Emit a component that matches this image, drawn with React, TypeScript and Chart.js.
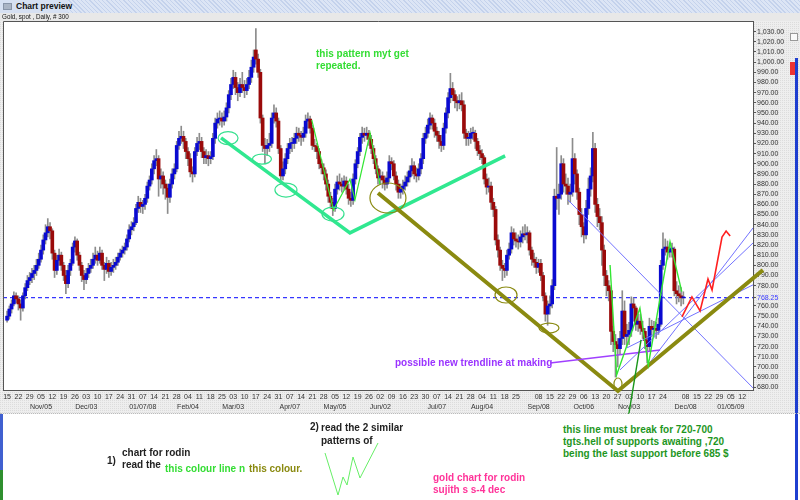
import React, { useEffect, useRef } from 'react';
import { Chart, registerables } from 'chart.js';
Chart.register(...registerables);

// ---------- DATA (daily bars, index 0 = Mon 15 Oct 2007) ----------
const opens = [
746,750,757,762,770, 767,762,758,770,778, 785,788,792,795,800, 806,815,825,832,838,
834,812,795,805,810, 800,790,782,795,802, 818,824,810,800,790, 786,792,797,800,806,
810,805,812,800,796, 802,794,798,800,803, 808,812,815,818,826, 835,838,842,856,862,
858,860,866,878,884, 895,903,905,885,888, 880,876,867,880,890, 895,918,925,927,922,
912,905,892,890,912, 920,922,912,906,908, 905,907,925,940,944, 945,942,946,955,968,
978,985,975,970,978, 975,972,978,985,995, 1012,1003,990,945,918, 915,918,920,945,950,
942,915,888,895,905, 915,920,920,925,930, 928,926,930,942,944, 935,918,917,912,900,
896,890,880,868,862, 856,875,882,880,878, 883,875,866,864,885, 900,912,926,930,928,
930,924,915,905,895, 886,888,884,880,886, 902,900,888,880,872, 875,878,882,887,893,
898,890,888,895,905, 925,930,938,945,940, 932,928,922,918,935, 950,965,974,968,962,
960,962,958,930,925, 925,930,930,922,913, 910,906,885,877,878, 862,855,825,815,800,
797,795,810,816,832, 826,824,823,828,831, 830,832,815,806,803, 798,802,790,770,752,
760,762,780,868,866, 870,900,880,878,870, 872,905,890,872,850, 838,830,856,875,888,
915,860,848,842,815, 790,780,775,735,725, 722,718,728,755,730, 732,736,762,758,742,
745,738,735,726,720, 740,737,738,736,742, 800,816,818,813,816, 816,775,772,770,768
];
const highs = [
755,760,766,774,773, 770,766,773,782,790, 793,797,800,806,812, 820,830,840,846,842,
836,815,810,816,813, 803,795,800,806,822, 828,826,813,803,795, 797,802,806,812,818,
814,818,815,803,808, 805,803,806,808,812, 816,819,822,830,840, 843,847,860,868,866,
864,870,882,888,900, 908,914,908,895,892, 884,880,885,895,900, 922,932,937,932,925,
916,910,897,916,926, 930,926,916,914,912, 912,930,945,950,952, 950,952,960,972,984,
992,990,980,984,990, 982,984,992,1002,1012, 1033,1008,993,948,925, 924,930,950,958,955,
945,918,902,910,920, 925,926,930,936,935, 932,936,948,950,947, 938,924,920,915,904,
900,894,884,872,866, 880,888,890,886,888, 887,880,872,890,904, 916,930,936,935,936,
933,928,918,908,898, 894,892,888,892,908, 906,903,892,884,880, 884,888,892,898,905,
902,896,900,910,930, 936,944,950,948,944, 936,932,928,940,955, 970,989,980,972,966,
968,970,962,934,932, 935,936,933,925,918, 914,908,890,886,882, 866,858,830,818,805,
802,815,822,838,836, 832,830,834,838,840, 838,834,818,812,808, 806,806,793,773,765,
770,786,875,916,880, 908,905,890,886,880, 925,910,894,876,856, 842,864,886,896,931,
920,866,856,848,820, 795,785,778,740,732, 728,735,775,765,742, 744,769,768,760,752,
752,745,738,730,748, 746,745,744,748,805, 832,826,824,822,822, 818,784,780,778,774
];
const lows = [
744,747,753,760,763, 756,746,755,767,775, 781,783,786,790,797, 803,811,821,828,826,
806,788,791,800,795, 785,772,778,790,800, 813,805,795,784,776, 782,788,793,797,802,
800,802,796,785,792, 788,790,793,796,800, 805,808,811,815,823, 830,834,840,852,852,
851,855,862,874,880, 890,898,868,876,870, 865,851,862,876,885, 892,914,920,915,905,
898,887,882,887,908, 914,906,900,900,898, 900,904,920,935,938, 936,938,942,950,963,
974,968,962,966,970, 965,968,974,980,990, 998,985,940,912,900, 908,912,916,940,936,
910,880,884,890,900, 910,912,915,920,922, 918,922,926,935,930, 914,912,905,895,890,
884,874,862,856,849, 853,870,874,872,874, 870,860,858,860,880, 896,908,920,922,924,
918,910,900,890,880, 880,876,874,876,882, 894,884,874,866,866, 870,874,878,882,888,
885,882,884,890,900, 920,926,934,934,926, 922,915,912,914,930, 945,960,962,955,952,
954,952,925,918,918, 920,924,915,908,904, 900,880,870,872,855, 848,820,808,795,785,
788,790,806,812,820, 818,816,818,822,825, 822,810,800,798,792, 793,785,765,745,741,
752,758,776,855,850, 865,872,870,860,862, 868,880,865,840,828, 822,826,850,868,882,
852,838,835,800,780, 770,765,722,715,690, 700,712,722,722,720, 722,730,745,736,735,
732,728,718,704,716, 730,730,728,732,740, 796,810,806,808,808, 770,762,764,760,762
];
const closes = [
750,757,762,770,767, 762,758,770,778,785, 788,792,795,800,806, 815,825,832,838,834,
812,795,805,810,800, 790,782,795,802,818, 824,810,800,790,786, 792,797,800,806,810,
805,812,800,796,802, 794,798,800,803,808, 812,815,818,826,835, 838,842,856,862,858,
860,866,878,884,895, 903,905,885,888,880, 876,867,880,890,895, 918,925,927,922,912,
905,892,890,912,920, 922,912,906,908,905, 907,925,940,944,945, 942,946,955,968,978,
985,975,970,978,975, 972,978,985,995,1005, 1003,990,945,918,915, 918,920,945,950,942,
915,888,895,905,915, 920,920,925,930,928, 926,930,942,944,935, 918,917,912,900,896,
890,880,868,862,856, 875,882,880,878,883, 875,866,864,885,900, 912,926,930,928,930,
924,915,905,895,886, 888,884,880,886,902, 900,888,880,872,875, 878,882,887,893,898,
890,888,895,905,925, 930,938,945,940,932, 928,922,918,935,950, 965,974,968,962,960,
962,958,930,925,925, 930,930,922,913,910, 906,885,877,878,862, 855,825,815,800,797,
795,810,816,832,826, 824,823,828,831,830, 832,815,806,803,798, 802,790,770,752,760,
762,780,868,866,870, 900,880,878,870,872, 905,890,872,850,838, 830,856,875,888,915,
860,848,842,815,790, 780,775,735,725,722, 718,728,755,730,732, 736,762,758,742,745,
738,735,726,720,740, 737,738,736,742,800, 816,818,813,816,816, 775,772,770,768,768
];
const lastPrice = 768.25;

// Monday tick labels, one per week ('' = label not shown)
const weekDayLabels = ['15','22','29','05','12','19','26','03','10','17','24','31','07','14','21','28','04','11','18','25','03','10','17','24','31','07','14','21','28','05','12','19','26','02','09','16','23','30','07','14','21','28','04','11','18','25','','08','15','22','29','06','13','20','27','03','10','17','24','','08','15','22','29','05','12'];
const monthLabelWeeks = [3,7,12,16,20,25,29,33,38,42,47,51,55,60,64];
const monthLabelTexts = ['Nov/05','Dec/03','01/07/08','Feb/04','Mar/03','Apr/07','May/05','Jun/02','Jul/07','Aug/04','Sep/08','Oct/06','Nov/03','Dec/08','01/05/09'];
const yTickValues = [1030,1020,1010,1000,990,980,970,960,950,940,930,920,910,900,890,880,870,860,850,840,830,820,810,800,790,780,768.25,760,750,740,730,720,710,700,690,680];

// Hand-drawn annotations, in (bar index, price)
const cyanTrend = [[94.6,925.4],[151.6,831.9],[220.2,907.7]];
const oliveTrend = [[164.0,871.2],[270.1,676.3],[334.2,795.4]];
const greenZigA = [[134.7,943.1],[144.3,854.5],[151.6,884.7],[153.8,864.3],[160.5,930],[164.9,879.1]];
const greenZigB = [[266.6,800.3],[269.5,692.0],[279.8,757.8],[283.5,701.9],[293.1,823.3],[298.3,774.1]];
const darkGreenPointer = [[274.1,642.9],[280.3,726.6]];
const purpleLine = [[240.1,703.9],[288.7,716.7]];
const blueLineA = [[248.0,864.4],[329.8,679.3]];
const blueLineB = [[283.4,702.0],[329.8,836.8]];
const blueLineC = [[271.0,697.1],[329.8,822.0]];
const blueLineD = [[274.1,718.8],[329.8,780.8]];
const redForecast = [[298.4,749.2],[302.8,768.9],[306.4,755.1],[309.9,786.6],[311.7,775.8],[316.1,827.9],[317.9,833.8],[319.7,828.9]];
const cyanCircles = [[97.7,925.3],[112.7,904.6],[123.3,874.1],[144.1,850.5]];
const oliveCircles = [[168.4,866.3],[220.6,770.8],[239.6,738.3],[270.1,683.2]];

// ---------- STYLE ----------
const X_MIN = -1.8, X_MAX = 329.8, Y_MIN = 677.3, Y_MAX = 1040.5;
const FONT = "'Liberation Sans', Arial, sans-serif";
const cyanRadii = [[10,6.5],[9.5,5],[11,7],[11,7]];
const oliveRadii = [[18,15],[11,8],[10,5],[4,6]];

const pts = (arr: number[][]) => arr.map(([x, y]) => ({ x, y }));

const lineDs = (data: number[][], color: string, width: number, order: number, extra: any = {}) => ({
  type: 'line' as const,
  data: pts(data),
  borderColor: color,
  borderWidth: width,
  pointRadius: 0,
  tension: 0,
  fill: false,
  order,
  clip: false,
  ...extra,
});

const fmt = new Intl.NumberFormat('en-US', { minimumFractionDigits: 2, maximumFractionDigits: 2 });

const dayTickMap = new Map<number, string>();
weekDayLabels.forEach((l, w) => { if (l) dayTickMap.set(w * 5, l); });
const monthTickMap = new Map<number, string>();
monthLabelWeeks.forEach((w, k) => monthTickMap.set(w * 5, monthLabelTexts[k]));

function makePattern(ctx: CanvasRenderingContext2D) {
  const c = document.createElement('canvas');
  c.width = 2; c.height = 2;
  const g = c.getContext('2d')!;
  g.fillStyle = '#eeeeee'; g.fillRect(0, 0, 2, 2);
  g.fillStyle = '#dcdcdc'; g.fillRect(0, 0, 1, 1);
  return ctx.createPattern(c, 'repeat');
}

const decoPlugin = {
  id: 'deco',
  beforeDraw(chart: any) {
    const { ctx, chartArea: a } = chart;
    ctx.save();
    ctx.fillStyle = makePattern(ctx) || '#ececec';
    ctx.fillRect(0, 21, chart.width, chart.height - 21);
    ctx.fillStyle = '#ffffff';
    ctx.fillRect(a.left, a.top, a.right - a.left, a.bottom - a.top);
    ctx.restore();
  },
  afterDatasetsDraw(chart: any) {
    const { ctx } = chart;
    const xs = chart.scales.x, ys = chart.scales.y;
    const drawSet = (centers: number[][], radii: number[][], color: string, w: number) => {
      centers.forEach(([cx, cy], i) => {
        ctx.beginPath();
        ctx.ellipse(xs.getPixelForValue(cx), ys.getPixelForValue(cy), radii[i][0], radii[i][1], 0, 0, Math.PI * 2);
        ctx.strokeStyle = color; ctx.lineWidth = w; ctx.stroke();
      });
    };
    ctx.save();
    drawSet(cyanCircles, cyanRadii, '#35e08e', 1.2);
    drawSet(oliveCircles, oliveRadii, '#8a8a10', 1.2);
    ctx.restore();
  },
  afterDraw(chart: any) {
    const { ctx, chartArea: a } = chart;
    ctx.save();
    ctx.strokeStyle = '#555';
    ctx.lineWidth = 1;
    ctx.beginPath();
    ctx.moveTo(a.left + 0.5, a.bottom);
    ctx.lineTo(a.left + 0.5, a.top + 0.5);
    ctx.lineTo(a.right, a.top + 0.5);
    ctx.stroke();
    ctx.restore();
  },
};

function ChartCanvas() {
  const ref = useRef<HTMLCanvasElement>(null);
  useEffect(() => {
    if (!ref.current) return;
    const bodies = closes.map((c, i) => ({ x: i, y: [opens[i], c] }));
    const wicks = closes.map((_, i) => ({ x: i, y: [lows[i], highs[i]] }));
    const chart = new Chart(ref.current, {
      type: 'bar',
      data: {
        datasets: [
          lineDs(redForecast, '#ff2020', 1.6, 0),
          lineDs(greenZigB, '#33e633', 1.4, 1),
          lineDs(darkGreenPointer, '#1a961a', 1.4, 1),
          lineDs(purpleLine, '#a040ff', 1.6, 1),
          lineDs(oliveTrend, '#8a8a10', 4, 2),
          lineDs(cyanTrend, '#30e890', 3.5, 2),
          lineDs(greenZigA, '#33e633', 1.2, 3),
          lineDs(blueLineA, '#7373ff', 1, 4),
          lineDs(blueLineB, '#7373ff', 1, 4),
          lineDs(blueLineC, '#7373ff', 1, 4),
          lineDs(blueLineD, '#7373ff', 1, 4),
          {
            type: 'bar' as const,
            data: bodies as any,
            grouped: false,
            barThickness: 3,
            minBarLength: 1,
            order: 10,
            backgroundColor: (ctx: any) => {
              const i = ctx.dataIndex;
              return closes[i] >= opens[i] ? '#0a0ad0' : '#9a0a0a';
            },
            borderWidth: 0,
          },
          {
            type: 'bar' as const,
            data: wicks as any,
            grouped: false,
            barThickness: 1,
            order: 11,
            backgroundColor: '#8c8c8c',
            borderWidth: 0,
          },
          lineDs([[X_MIN, lastPrice], [X_MAX, lastPrice]], '#3636ff', 1.3, 12, { borderDash: [4, 3], clip: true }),
        ] as any,
      },
      options: {
        animation: false,
        responsive: false,
        devicePixelRatio: 1,
        events: [],
        layout: { padding: { left: 3, top: 21, right: 0, bottom: 0 } },
        plugins: { legend: { display: false }, tooltip: { enabled: false }, title: { display: false } },
        scales: {
          x: {
            type: 'linear', position: 'bottom', min: X_MIN, max: X_MAX, offset: false, weight: 0,
            grid: { display: false, drawTicks: false, offset: false },
            border: { display: true, color: '#555' },
            afterBuildTicks: (s: any) => { s.ticks = Array.from(dayTickMap.keys()).map((v) => ({ value: v })); },
            afterFit: (s: any) => { s.height = 12; },
            ticks: {
              autoSkip: false, maxRotation: 0, minRotation: 0, padding: 3,
              font: { size: 7, family: FONT }, color: '#333',
              callback: (v: any) => dayTickMap.get(Number(v)) ?? '',
            },
          },
          x2: {
            type: 'linear', position: 'bottom', min: X_MIN, max: X_MAX, offset: false, weight: 1,
            grid: { display: false, drawTicks: false },
            border: { display: false },
            afterBuildTicks: (s: any) => { s.ticks = Array.from(monthTickMap.keys()).map((v) => ({ value: v })); },
            afterFit: (s: any) => { s.height = 12; },
            ticks: {
              autoSkip: false, maxRotation: 0, minRotation: 0, padding: 1,
              font: { size: 7, family: FONT }, color: '#333',
              callback: (v: any) => monthTickMap.get(Number(v)) ?? '',
            },
          },
          y: {
            type: 'linear', position: 'right', min: Y_MIN, max: Y_MAX,
            grid: { display: true, drawOnChartArea: false, drawTicks: true, tickLength: 3, color: '#555' },
            border: { display: true, color: '#555' },
            afterBuildTicks: (s: any) => { s.ticks = yTickValues.map((v) => ({ value: v })); },
            afterFit: (s: any) => { s.width = 47; },
            ticks: {
              autoSkip: false, padding: 1,
              font: { size: 7, family: FONT },
              color: (c: any) => (c.tick && c.tick.value === lastPrice ? '#3b3bff' : '#333'),
              callback: (v: any) => fmt.format(Number(v)),
            },
          },
        },
      } as any,
      plugins: [decoPlugin],
    });
    return () => chart.destroy();
  }, []);
  return <canvas ref={ref} width={800} height={414} style={{ position: 'absolute', left: 0, top: 0, width: 800, height: 414 }} />;
}

const txt = (left: number, top: number, color: string, lines: string[], lh = 12): React.ReactNode => (
  <div style={{ position: 'absolute', left, top, color, font: `bold 10px ${FONT}`, lineHeight: `${lh}px`, whiteSpace: 'pre' }}>
    {lines.map((l, i) => <div key={i}>{l}</div>)}
  </div>
);

export default function App() {
  return (
    <div style={{ position: 'fixed', left: 0, top: 0, width: 800, height: 500, background: '#fff', overflow: 'hidden' }}>
      <div style={{ position: 'absolute', left: 0, top: 0, width: 800, height: 13, background: 'repeating-linear-gradient(45deg,#c4d2ec 0px,#c4d2ec 1px,#dce5f5 1px,#dce5f5 3px)' }} />
      <div style={{ position: 'absolute', left: 0, top: 0, width: 68, height: 13, background: '#d6e0f2' }} />
      <div style={{ position: 'absolute', left: 3, top: 3, width: 9, height: 7, background: '#aab4c4', border: '1px solid #8894a8', boxSizing: 'border-box' }} />
      <div style={{ position: 'absolute', left: 16, top: 1, font: `bold 8.5px ${FONT}`, color: '#111', lineHeight: '11px' }}>Chart preview</div>
      <div style={{ position: 'absolute', left: 0, top: 13, width: 800, height: 8, background: '#e8e8e8' }} />
      <ChartCanvas />
      <div style={{ position: 'absolute', left: 2, top: 13, font: `6.3px ${FONT}`, color: '#111', lineHeight: '8px' }}>Gold, spot , Daily, # 300</div>
      {/* right side strip */}
      <div style={{ position: 'absolute', left: 790, top: 33, width: 8, height: 8, background: '#fafafa', border: '1px solid #999', boxSizing: 'border-box' }} />
      <div style={{ position: 'absolute', left: 795, top: 58, width: 3, height: 442, background: '#1f3fd0' }} />
      <div style={{ position: 'absolute', left: 790, top: 62, width: 5, height: 13, background: '#ee3333' }} />
      <div style={{ position: 'absolute', left: 0, top: 413, width: 800, height: 1, borderTop: '1px dotted #bbb' }} />
      <div style={{ position: 'absolute', left: 0, top: 414, width: 3, height: 56, background: '#4060d0' }} />
      <div style={{ position: 'absolute', left: 0, top: 470, width: 3, height: 30, background: '#2f8f2f' }} />

      {txt(316, 48, '#33dd33', ['this pattern myt get', 'repeated.'], 11.7)}
      {txt(395, 357, '#9a33ff', ['possible new trendline at making'])}
      {txt(107, 455, '#222', ['1)'])}
      {txt(122, 447, '#222', ['chart for rodin', 'read the'], 12.3)}
      {txt(165, 463, '#33dd33', ['this colour line n'])}
      {txt(249, 463, '#8a8a10', ['this colour.'])}
      {txt(310, 421, '#222', ['2)'])}
      {txt(321, 421, '#222', ['read the 2 similar', 'patterns of'], 13.3)}
      {txt(563, 424, '#1e961e', ['this line must break for 720-700', 'tgts.hell of supports awaiting ,720', 'being the last support before 685 $'], 12.2)}
      {txt(433, 472, '#ff3399', ['gold chart for rodin', 'sujith s s-4 dec'], 11.5)}
      <svg width={800} height={500} style={{ position: 'absolute', left: 0, top: 0, pointerEvents: 'none' }}>
        <polyline points="325,453 338,495 343,477 347,485 353,457 360,478 378,443" fill="none" stroke="#66ee66" strokeWidth={1} />
      </svg>
    </div>
  );
}
